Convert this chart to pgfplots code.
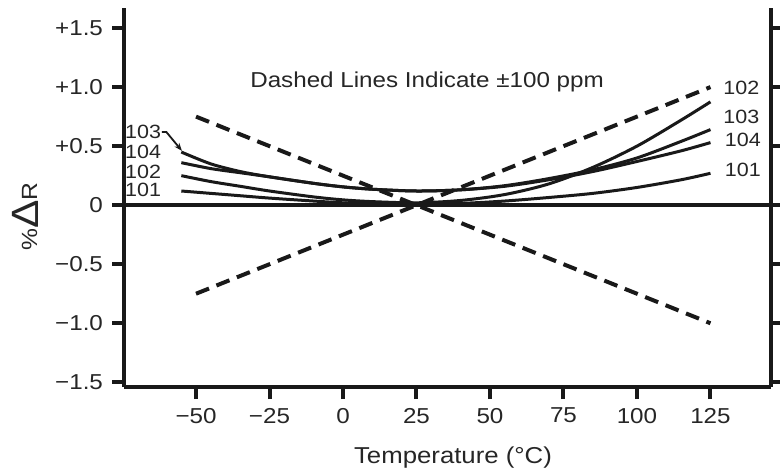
\documentclass[border=0pt]{standalone}
\usepackage{fontspec}
\setmainfont{Liberation Sans}[FakeStretch=1.12]
\usepackage{pgfplots}
\pgfplotsset{compat=1.18}
\usetikzlibrary{arrows.meta}

\pgfplotstableread{
x    a      b      c      d
-55  0.45   0.36   0.25   0.12
-45  0.35   0.31   0.20   0.10
-35  0.285  0.275  0.16   0.08
-25  0.24   0.24   0.12   0.06
-10  0.185  0.185  0.07   0.035
0    0.155  0.155  0.045  0.02
10   0.135  0.135  0.03   0.012
25   0.12   0.12   0.02   0.01
40   0.13   0.13   0.04   0.015
55   0.165  0.16   0.09   0.035
70   0.225  0.215  0.18   0.065
85   0.30   0.285  0.32   0.10
100  0.40   0.37   0.50   0.15
115  0.54   0.46   0.72   0.215
125  0.64   0.53   0.875  0.27
}\curves

\begin{document}
\begin{tikzpicture}
\useasboundingbox (0,0) rectangle (390pt,235.5pt);
\begin{axis}[
  at={(62pt,42pt)}, anchor=south west,
  scale only axis, width=323.5pt, height=189.5pt,
  xmin=-74.5, xmax=145.6, ymin=-1.54, ymax=1.67,
  axis x line*=bottom, axis y line*=box,
  axis line style={line width=1.8pt, color=black!90},
  tick align=outside,
  major tick length=6pt,
  tick style={line width=2pt, black!90},
  xtick={-50,-25,0,25,50,75,100,125},
  xticklabels={−50,−25,0,25,50,75,100,125},
  ytick={-1.5,-1,-0.5,0,0.5,1,1.5},
  yticklabels={−1.5,−1.0,−0.5,0,+0.5,+1.0,+1.5},
  ticklabel style={font=\fontsize{10.8}{12}\selectfont, text=black!85},
  xticklabel style={yshift=-1pt},
  yticklabel style={xshift=-1pt},
  clip=false,
]
\addplot[line width=1.8pt, black!90] coordinates {(-74.5,0) (148.6,0)};
\addplot[line width=1.5pt, black!90, smooth] table[x=x, y=a] {\curves};
\addplot[line width=1.5pt, black!90, smooth] table[x=x, y=b] {\curves};
\addplot[line width=1.5pt, black!90, smooth] table[x=x, y=c] {\curves};
\addplot[line width=1.5pt, black!90, smooth] table[x=x, y=d] {\curves};
\addplot[line width=2pt, black!90, dash pattern=on 7pt off 4pt] coordinates {(-50,0.75) (125,-1.0)};
\addplot[line width=2pt, black!90, dash pattern=on 7pt off 4pt] coordinates {(-50,-0.75) (125,1.0)};

\node[font=\fontsize{10.8}{12}\selectfont, text=black!85] at (axis cs:28.6,1.04) {Dashed Lines Indicate ±100 ppm};

\begin{scope}[font=\fontsize{9.6}{11}\selectfont, text=black!85]
\node at (axis cs:-68,0.62) {103};
\node at (axis cs:-68,0.45) {104};
\node at (axis cs:-68,0.28) {102};
\node at (axis cs:-68,0.13) {101};
\node at (axis cs:135.5,0.99) {102};
\node at (axis cs:135.5,0.745) {103};
\node at (axis cs:136,0.55) {104};
\node at (axis cs:136,0.30) {101};
\end{scope}
\draw[line width=0.9pt, black!90, -{Stealth[length=4pt,width=3pt]}] (axis cs:-61.6,0.62) -- (axis cs:-60.1,0.62) -- (axis cs:-54.8,0.46);

\node[rotate=90, text=black!85] at (rel axis cs:-0.153,0.449) {\fontsize{11}{12}\selectfont\%\raisebox{-0.5pt}{\fontsize{19}{20}\selectfont Δ}R};
\node[font=\fontsize{11.5}{13}\selectfont, text=black!85] at (rel axis cs:0.5085,-0.187) {Temperature (°C)};
\end{axis}
\end{tikzpicture}
\end{document}
